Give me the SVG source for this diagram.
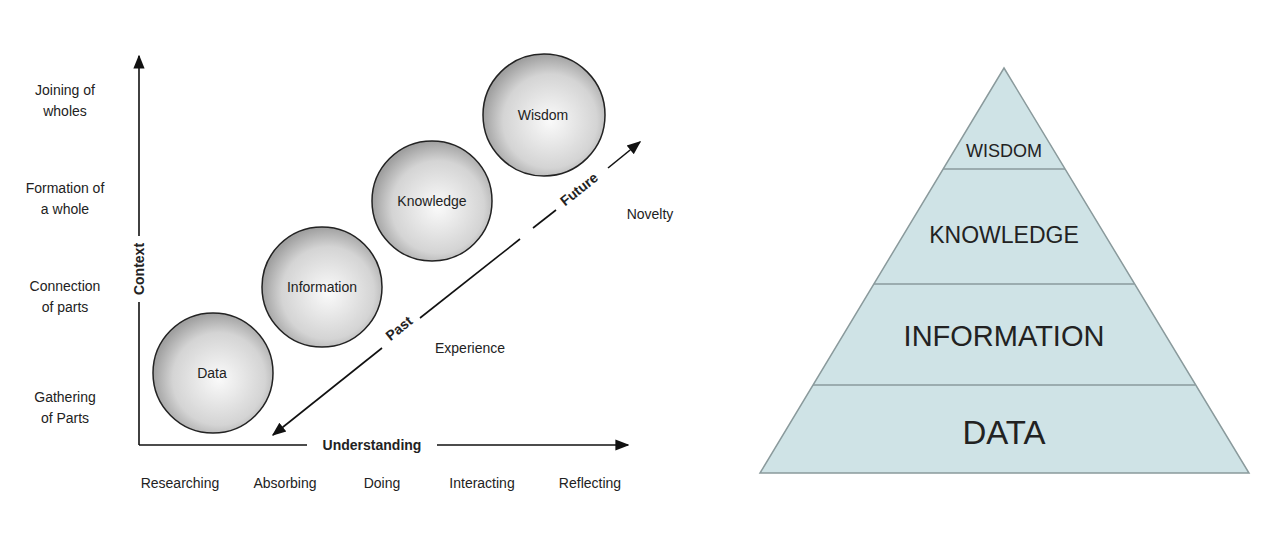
<svg xmlns="http://www.w3.org/2000/svg" width="1280" height="535" viewBox="0 0 1280 535">
<style>
text{font-family:"Liberation Sans",Arial,sans-serif;fill:#222}
.s{font-size:14px}
.b{font-size:14px;font-weight:bold}
.ln{stroke:#111;stroke-width:1.6;fill:none}
.c{fill:url(#g);stroke:#222;stroke-width:1.5}
.t{fill:#cfe3e6;stroke:#8a9a9c;stroke-width:1.5}
.d{stroke:#8a9a9c;stroke-width:1.5}
</style>
<defs>
<radialGradient id="g" cx="0.55" cy="0.55" r="0.55"><stop offset="0" stop-color="#fafafa"/><stop offset="0.7" stop-color="#d4d4d4"/><stop offset="1" stop-color="#a0a0a0"/></radialGradient>
<marker id="a" viewBox="0 0 10 10" refX="9" refY="5" markerWidth="8" markerHeight="8" markerUnits="userSpaceOnUse" orient="auto"><path d="M0,0L10,5L0,10z" fill="#111"/></marker>
<marker id="A" viewBox="0 0 10 10" refX="9" refY="5" markerWidth="14" markerHeight="14" markerUnits="userSpaceOnUse" orient="auto"><path d="M0,1L10,5L0,9z" fill="#111"/></marker>
</defs>
<rect width="1280" height="535" fill="#fff"/>
<g id="connectors">
<line class="ln" x1="139" y1="236" x2="139" y2="56" marker-end="url(#A)"/>
<line class="ln" x1="139" y1="302" x2="139" y2="445"/>
<line class="ln" x1="139" y1="445" x2="307" y2="445"/>
<line class="ln" x1="437" y1="445" x2="628" y2="445" marker-end="url(#A)"/>
<line class="ln" x1="382" y1="348" x2="273" y2="435" marker-end="url(#A)"/>
<line class="ln" x1="420" y1="318" x2="520" y2="239"/>
<line class="ln" x1="533" y1="228" x2="556" y2="210"/>
<line class="ln" x1="608" y1="168" x2="640" y2="142" marker-end="url(#A)"/>
</g>
<g id="data"><circle class="c" cx="213" cy="373" r="60"/><text class="s" x="212" y="378" text-anchor="middle">Data</text></g>
<g id="information"><circle class="c" cx="322" cy="287" r="60"/><text class="s" x="322" y="292" text-anchor="middle">Information</text></g>
<g id="knowledge"><circle class="c" cx="432" cy="201" r="60"/><text class="s" x="432" y="206" text-anchor="middle">Knowledge</text></g>
<g id="wisdom"><circle class="c" cx="544" cy="115" r="61"/><text class="s" x="543" y="120" text-anchor="middle">Wisdom</text></g>
<g id="labels">
<text class="b" transform="translate(144,269) rotate(-90)" text-anchor="middle">Context</text>
<text class="b" x="372" y="450" text-anchor="middle">Understanding</text>
<text class="b" transform="translate(402,332) rotate(-38.5)" text-anchor="middle">Past</text>
<text class="b" transform="translate(582,193) rotate(-38.5)" text-anchor="middle">Future</text>
<text class="s" x="470" y="353" text-anchor="middle">Experience</text>
<text class="s" x="650" y="219" text-anchor="middle">Novelty</text>
<text class="s" text-anchor="middle"><tspan x="65" y="95">Joining of</tspan><tspan x="65" y="116">wholes</tspan></text>
<text class="s" text-anchor="middle"><tspan x="65" y="193">Formation of</tspan><tspan x="65" y="214">a whole</tspan></text>
<text class="s" text-anchor="middle"><tspan x="65" y="291">Connection</tspan><tspan x="65" y="312">of parts</tspan></text>
<text class="s" text-anchor="middle"><tspan x="65" y="402">Gathering</tspan><tspan x="65" y="423">of Parts</tspan></text>
<text class="s" x="180" y="488" text-anchor="middle">Researching</text>
<text class="s" x="285" y="488" text-anchor="middle">Absorbing</text>
<text class="s" x="382" y="488" text-anchor="middle">Doing</text>
<text class="s" x="482" y="488" text-anchor="middle">Interacting</text>
<text class="s" x="590" y="488" text-anchor="middle">Reflecting</text>
</g>
<g id="pyramid">
<polygon class="t" points="1004,68 1249,473 760,473"/>
<line class="d" x1="943" y1="169" x2="1065" y2="169"/>
<line class="d" x1="874" y1="284" x2="1134" y2="284"/>
<line class="d" x1="813" y1="385" x2="1195" y2="385"/>
<text x="1004" y="157" text-anchor="middle" font-size="18">WISDOM</text>
<text x="1004" y="243" text-anchor="middle" font-size="23">KNOWLEDGE</text>
<text x="1004" y="346" text-anchor="middle" font-size="29">INFORMATION</text>
<text x="1004" y="444" text-anchor="middle" font-size="33">DATA</text>
</g>
</svg>
